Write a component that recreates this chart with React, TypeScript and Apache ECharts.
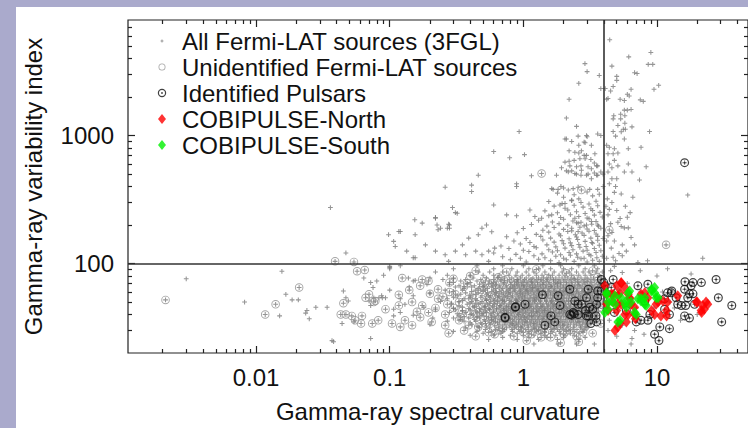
import React, { useEffect, useRef } from 'react';
import * as echarts from 'echarts';

const FONT = '"Liberation Sans", Arial, Helvetica, sans-serif';

// ---- axis ticks / labels ----
const X_MAJOR = [0.01, 0.1, 1, 10];
const X_MINOR = [0.002, 0.003, 0.004, 0.005, 0.006, 0.007, 0.008, 0.009,
  0.02, 0.03, 0.04, 0.05, 0.06, 0.07, 0.08, 0.09,
  0.2, 0.3, 0.4, 0.5, 0.6, 0.7, 0.8, 0.9,
  2, 3, 4, 5, 6, 7, 8, 9, 20, 30, 40];
const Y_MAJOR = [100, 1000];
const Y_MINOR = [30, 40, 50, 60, 70, 80, 90, 200, 300, 400, 500, 600, 700, 800, 900,
  2000, 3000, 4000, 5000, 6000, 7000];

// ---- All 3FGL sources (not otherwise marked): upper sparse part ----
const allUpper: number[][] = [
  [4.43, 5600], [9.0, 4460], [6.15, 4120], [8.6, 3600], [9.3, 3600], [2.89, 3650], [3.0, 3160], [4.6, 3490],
  [6.8, 3100], [7.1, 3050], [3.7, 2950], [5.0, 2900], [5.0, 2700], [2.6, 2560], [10.3, 2470], [9.5, 2300],
  [4.7, 2420], [4.5, 2230], [3.8, 2330], [4.1, 2330], [6.4, 2300], [6.0, 2100], [6.2, 2040], [2.2, 1920],
  [4.2, 1920], [4.3, 1950], [5.3, 1920], [5.7, 1880], [7.5, 1900], [7.9, 1850], [5.7, 1580], [6.0, 1580],
  [6.4, 1600], [4.75, 1430], [5.35, 1470], [5.75, 1430], [2.1, 1370], [2.5, 1180], [4.7, 1350], [5.35, 1350],
  [5.75, 1250], [5.1, 1200], [5.6, 1120], [5.8, 1120], [6.5, 1170], [4.7, 1075], [4.9, 990], [5.4, 1070],
  [8.8, 1075], [0.93, 1075], [2.1, 940], [2.3, 900], [2.6, 840], [2.85, 890], [3.0, 980], [3.6, 1030],
  [3.8, 1000], [6.1, 790], [5.7, 940], [4.2, 840], [4.4, 810], [4.8, 790], [4.3, 720], [4.7, 720],
  [5.1, 730], [7.6, 810], [0.79, 670], [1.02, 710], [2.6, 730], [2.85, 700], [3.2, 650], [3.4, 610],
  [3.6, 580], [3.8, 520], [2.9, 660], [2.2, 630], [2.4, 640], [2.7, 580], [3.05, 570], [2.1, 530],
  [2.3, 530], [2.5, 500], [2.7, 490], [3.05, 500], [3.4, 510], [3.6, 490], [3.95, 500], [1.15, 485],
  [1.93, 560], [1.77, 490], [0.89, 420], [0.89, 400], [6.1, 600], [5.1, 580], [5.7, 520], [6.5, 520],
  [7.4, 450], [8.3, 570], [4.4, 600], [4.6, 560], [4.8, 640], [4.3, 520], [5.0, 460], [1.67, 380],
  [1.82, 380], [2.0, 390], [2.17, 375], [2.36, 385], [2.57, 395], [3.14, 380], [3.6, 380], [3.96, 400],
  [17, 343], [0.6, 750], [2.05, 940], [2.57, 990], [2.97, 1000], [2.9, 880], [3.23, 840], [2.2, 760],
  [2.43, 740], [2.72, 760], [2.97, 700], [3.43, 720], [2.65, 660], [2.05, 620], [2.23, 580], [2.5, 570],
  [2.72, 535], [3.23, 550], [3.53, 580], [2.17, 520], [2.43, 505], [2.97, 490], [3.23, 460], [3.53, 490],
  [1.63, 385], [1.91, 400], [1.12, 262], [1.22, 233], [1.37, 226], [1.63, 240], [1.88, 287], [2.05, 295],
  [2.3, 313], [0.6, 287], [0.75, 240], [0.89, 236], [0.46, 490], [0.41, 410], [0.41, 365], [0.26, 395],
  [0.31, 250], [0.22, 226], [0.23, 184], [0.28, 200], [0.28, 189], [0.154, 220], [0.117, 178], [2.43, 226],
  [2.57, 207], [2.97, 200], [3.23, 213], [3.6, 200], [2.3, 189], [2.57, 178],
  [0.036, 274], [0.047, 121], [0.098, 168], [0.12, 178], [0.107, 149], [0.11, 136], [0.15, 111], [0.155, 111],
  [0.134, 125], [0.22, 229], [0.226, 200], [0.24, 189], [0.276, 203], [0.295, 274], [0.32, 247], [0.27, 189],
  [0.175, 207], [0.155, 168], [0.185, 140], [0.22, 125], [0.26, 117], [0.276, 104], [0.31, 125], [0.35, 140],
  [0.39, 158], [0.46, 168], [0.49, 189], [0.53, 200], [0.58, 177], [0.37, 117], [0.44, 125], [0.49, 117],
  [0.55, 125], [0.61, 132],
  [4.55, 132], [5.7, 190], [6.1, 190], [5.4, 195], [4.8, 150], [5.2, 120], [4.3, 240], [5.0, 260],
  [6.0, 230], [4.6, 300], [7.2, 102], [8.5, 105], [22, 110], [6.4, 160], [4.2, 110], [4.9, 105],
  [5.5, 140], [4.3, 165], [5.9, 125], [6.8, 140], [4.5, 205], [5.3, 225], [4.15, 280], [6.6, 330],
  [5.4, 350], [4.4, 420], [4.6, 460], [4.8, 360], [4.2, 150], [4.6, 175], [5.1, 210], [4.4, 265],
  [5.8, 280], [4.25, 320], [4.9, 400], [5.5, 115], [6.3, 250], [4.7, 112],
];

// the band just above the y = 100 line
const allBand: number[][] = [
  [0.55, 104], [0.8, 107], [1.05, 103], [1.3, 108], [1.6, 105], [1.85, 102], [2.1, 107], [2.4, 104], [2.7, 109], [3.0, 103], [3.3, 106], [3.7, 104],
  [0.7, 113], [0.95, 110], [1.2, 115], [1.45, 111], [1.75, 114], [2.0, 110], [2.25, 116], [2.55, 112], [2.85, 110], [3.2, 115], [3.55, 111], [3.9, 114],
  [0.6, 121], [0.88, 118], [1.1, 124], [1.38, 119], [1.65, 123], [1.9, 117], [2.2, 122], [2.5, 119], [2.8, 125], [3.1, 118], [3.5, 122],
  [0.78, 131], [1.0, 127], [1.25, 133], [1.55, 128], [1.8, 126], [2.05, 132], [2.35, 128], [2.65, 134], [3.0, 127], [3.4, 131], [3.8, 126],
  [0.68, 137], [0.95, 142], [1.2, 136], [1.5, 140], [1.75, 135], [2.0, 143], [2.3, 138], [2.6, 141], [2.95, 136], [3.3, 144], [3.7, 139],
  [0.85, 150], [1.12, 146], [1.4, 153], [1.7, 147], [1.95, 151], [2.25, 145], [2.55, 154], [2.9, 149], [3.25, 146], [3.6, 152],
  [0.75, 162], [1.05, 157], [1.35, 163], [1.6, 158], [1.9, 165], [2.2, 156], [2.5, 161], [2.85, 166], [3.2, 158], [3.6, 163], [3.95, 157],
  [0.9, 174], [1.25, 169], [1.55, 176], [1.85, 170], [2.15, 178], [2.45, 168], [2.75, 173], [3.1, 179], [3.5, 170],
  [1.0, 188], [1.4, 182], [1.7, 191], [2.0, 185], [2.3, 180], [2.65, 192], [3.0, 186], [3.4, 181], [3.8, 189],
  [1.15, 202], [1.5, 196], [1.85, 205], [2.15, 199], [2.5, 208], [2.85, 197], [3.25, 203], [3.65, 196],
  [1.3, 218], [1.65, 211], [2.0, 222], [2.35, 215], [2.7, 210], [3.1, 224], [3.5, 213],
  [1.55, 236], [1.9, 229], [2.25, 241], [2.6, 233], [3.0, 227], [3.4, 239], [3.9, 231],
  [1.45, 258], [1.8, 249], [2.15, 262], [2.5, 254], [2.9, 246], [3.3, 260], [3.75, 251],
  [1.7, 281], [2.05, 270], [2.4, 285], [2.8, 276], [3.2, 268], [3.6, 283],
  [1.55, 305], [1.95, 294], [2.3, 310], [2.7, 300], [3.1, 292], [3.5, 307],
  [2.0, 330], [2.6, 320], [3.3, 338], [1.8, 355], [2.4, 345], [3.0, 362], [3.7, 348],
];

// rows read across the dense cloud below y = 100: [y, x, x, ...]
const allCloudRows: number[][] = [
  [96, 0.12, 0.45, 0.7, 1.0, 1.4, 1.9, 2.6, 3.4],
  [91, 0.1, 0.3, 0.6, 0.82, 1.1, 1.3, 1.6, 2.0, 2.3, 2.9, 3.6],
  [86, 0.22, 0.46, 0.56, 0.7, 0.9, 1.05, 1.2, 1.45, 1.7, 1.95, 2.2, 2.5, 2.8, 3.1, 3.5, 3.9],
  [81, 0.09, 0.27, 0.4, 0.5, 0.6, 0.66, 0.78, 0.88, 0.98, 1.1, 1.25, 1.38, 1.55, 1.65, 1.85, 2.05, 2.3, 2.6, 2.9, 3.2, 3.7],
  [77, 0.2, 0.3, 0.42, 0.53, 0.64, 0.72, 0.82, 0.95, 1.05, 1.18, 1.3, 1.42, 1.6, 1.75, 1.95, 2.15, 2.4, 2.7, 3.0, 3.35, 3.8],
  [75, 0.25, 0.37, 0.48, 0.6, 0.68, 0.79, 0.9, 1.02, 1.14, 1.26, 1.36, 1.51, 1.68, 1.85, 2.05, 2.28, 2.55, 2.85, 3.2, 3.6],
  [73, 0.08, 0.15, 0.34, 0.45, 0.56, 0.68, 0.76, 0.86, 0.92, 1.0, 1.1, 1.22, 1.35, 1.5, 1.68, 1.82, 2.0, 2.2, 2.45, 2.75, 3.05, 3.4, 3.85],
  [71, 0.3, 0.4, 0.5, 0.6, 0.72, 0.81, 0.9, 0.98, 1.05, 1.16, 1.28, 1.42, 1.58, 1.75, 1.9, 2.1, 2.32, 2.6, 2.9, 3.25, 3.65],
  [69, 0.19, 0.28, 0.38, 0.47, 0.55, 0.63, 0.71, 0.8, 0.89, 0.97, 1.07, 1.17, 1.28, 1.4, 1.55, 1.72, 1.9, 2.1, 2.3, 2.55, 2.85, 3.15, 3.5, 3.95],
  [67, 0.33, 0.43, 0.51, 0.59, 0.67, 0.75, 0.84, 0.93, 1.02, 1.12, 1.22, 1.34, 1.47, 1.63, 1.81, 2.0, 2.2, 2.42, 2.7, 3.0, 3.32, 3.72],
  [65.5, 0.14, 0.31, 0.41, 0.5, 0.58, 0.66, 0.74, 0.83, 0.91, 1.0, 1.12, 1.23, 1.35, 1.48, 1.63, 1.8, 1.98, 2.2, 2.4, 2.65, 2.95, 3.3, 3.7],
  [64, 0.36, 0.46, 0.54, 0.62, 0.7, 0.79, 0.87, 0.96, 1.06, 1.17, 1.29, 1.41, 1.55, 1.71, 1.89, 2.09, 2.3, 2.53, 2.8, 3.12, 3.5, 3.9],
  [62, 0.1, 0.26, 0.35, 0.44, 0.52, 0.6, 0.69, 0.77, 0.86, 0.95, 1.05, 1.16, 1.28, 1.42, 1.56, 1.72, 1.9, 2.08, 2.3, 2.52, 2.8, 3.1, 3.45, 3.85],
  [60.5, 0.3, 0.41, 0.5, 0.58, 0.66, 0.75, 0.85, 0.94, 1.04, 1.14, 1.26, 1.39, 1.53, 1.68, 1.86, 2.05, 2.26, 2.5, 2.76, 3.05, 3.38, 3.75],
  [59, 0.2, 0.37, 0.46, 0.54, 0.62, 0.71, 0.8, 0.9, 0.99, 1.09, 1.2, 1.32, 1.46, 1.6, 1.77, 1.96, 2.15, 2.38, 2.62, 2.9, 3.2, 3.55, 3.95],
  [57.5, 0.34, 0.44, 0.53, 0.61, 0.69, 0.78, 0.88, 0.98, 1.08, 1.2, 1.32, 1.45, 1.6, 1.76, 1.93, 2.12, 2.34, 2.58, 2.86, 3.15, 3.5, 3.88],
  [56, 0.15, 0.32, 0.4, 0.49, 0.57, 0.65, 0.74, 0.83, 0.93, 1.03, 1.14, 1.26, 1.38, 1.52, 1.67, 1.84, 2.02, 2.22, 2.45, 2.7, 3.0, 3.3, 3.65],
  [54.5, 0.3, 0.4, 0.48, 0.56, 0.64, 0.72, 0.82, 0.92, 1.02, 1.12, 1.24, 1.36, 1.5, 1.65, 1.82, 2.0, 2.2, 2.43, 2.68, 2.96, 3.26, 3.62],
  [53, 0.12, 0.27, 0.36, 0.44, 0.52, 0.6, 0.68, 0.77, 0.87, 0.97, 1.07, 1.18, 1.3, 1.44, 1.58, 1.74, 1.92, 2.1, 2.32, 2.56, 2.82, 3.1, 3.45, 3.8],
  [51.5, 0.35, 0.45, 0.53, 0.61, 0.7, 0.79, 0.89, 0.99, 1.1, 1.21, 1.34, 1.48, 1.63, 1.8, 1.98, 2.18, 2.4, 2.65, 2.94, 3.26, 3.62],
  [50.5, 0.24, 0.33, 0.41, 0.49, 0.57, 0.64, 0.72, 0.81, 0.9, 1.0, 1.1, 1.22, 1.34, 1.48, 1.63, 1.8, 1.98, 2.18, 2.4, 2.65, 2.92, 3.22, 3.6],
  [49, 0.29, 0.4, 0.48, 0.56, 0.64, 0.72, 0.81, 0.9, 1.0, 1.1, 1.22, 1.35, 1.49, 1.64, 1.8, 1.98, 2.18, 2.4, 2.65, 2.92, 3.22, 3.56, 3.92],
  [48, 0.13, 0.29, 0.38, 0.46, 0.54, 0.61, 0.69, 0.78, 0.86, 0.95, 1.05, 1.16, 1.28, 1.41, 1.55, 1.7, 1.88, 2.06, 2.27, 2.5, 2.76, 3.05, 3.38, 3.75],
  [46.5, 0.33, 0.43, 0.51, 0.59, 0.67, 0.75, 0.84, 0.93, 1.03, 1.14, 1.26, 1.39, 1.53, 1.68, 1.85, 2.04, 2.25, 2.48, 2.74, 3.02, 3.34, 3.7],
  [45.5, 0.18, 0.35, 0.43, 0.51, 0.59, 0.66, 0.75, 0.84, 0.92, 1.02, 1.12, 1.24, 1.37, 1.51, 1.66, 1.83, 2.01, 2.21, 2.44, 2.69, 2.97, 3.28, 3.65],
  [44.5, 0.3, 0.39, 0.47, 0.55, 0.63, 0.71, 0.8, 0.88, 0.98, 1.08, 1.19, 1.31, 1.45, 1.6, 1.76, 1.94, 2.14, 2.36, 2.6, 2.88, 3.18, 3.52, 3.9],
  [43.5, 0.22, 0.31, 0.4, 0.48, 0.56, 0.63, 0.71, 0.8, 0.89, 0.98, 1.08, 1.19, 1.31, 1.44, 1.59, 1.75, 1.93, 2.12, 2.34, 2.58, 2.85, 3.15, 3.5],
  [42.5, 0.35, 0.44, 0.52, 0.6, 0.67, 0.75, 0.84, 0.94, 1.03, 1.14, 1.26, 1.38, 1.52, 1.68, 1.85, 2.03, 2.24, 2.47, 2.72, 3.0, 3.3, 3.66],
  [41.5, 0.12, 0.28, 0.37, 0.45, 0.53, 0.6, 0.68, 0.77, 0.85, 0.94, 1.04, 1.15, 1.27, 1.4, 1.54, 1.7, 1.87, 2.06, 2.27, 2.5, 2.76, 3.05, 3.38],
  [40.5, 0.32, 0.41, 0.49, 0.57, 0.64, 0.72, 0.81, 0.9, 0.99, 1.09, 1.2, 1.32, 1.45, 1.6, 1.77, 1.95, 2.15, 2.37, 2.6, 2.87, 3.17, 3.5],
  [39.5, 0.15, 0.33, 0.42, 0.5, 0.58, 0.65, 0.73, 0.82, 0.91, 1.0, 1.11, 1.22, 1.35, 1.49, 1.64, 1.81, 2.0, 2.2, 2.42, 2.67, 2.95, 3.25, 3.6],
  [38.5, 0.36, 0.45, 0.53, 0.61, 0.69, 0.77, 0.86, 0.95, 1.05, 1.16, 1.28, 1.41, 1.56, 1.72, 1.89, 2.08, 2.3, 2.53, 2.8, 3.08, 3.42],
  [37.5, 0.21, 0.3, 0.39, 0.47, 0.55, 0.62, 0.7, 0.79, 0.88, 0.97, 1.07, 1.18, 1.3, 1.43, 1.58, 1.74, 1.92, 2.12, 2.34, 2.58, 2.85, 3.15],
  [36.5, 0.34, 0.43, 0.51, 0.58, 0.66, 0.74, 0.83, 0.92, 1.01, 1.12, 1.23, 1.36, 1.5, 1.65, 1.82, 2.01, 2.22, 2.45, 2.7, 2.98, 3.3],
  [35.5, 0.27, 0.36, 0.44, 0.52, 0.6, 0.68, 0.76, 0.85, 0.94, 1.04, 1.15, 1.27, 1.4, 1.55, 1.71, 1.89, 2.08, 2.3, 2.54, 2.8, 3.1, 3.45],
  [34.5, 0.4, 0.48, 0.56, 0.64, 0.72, 0.8, 0.89, 0.98, 1.08, 1.2, 1.32, 1.46, 1.61, 1.78, 1.96, 2.16, 2.38, 2.64, 2.92, 3.25],
  [33.5, 0.2, 0.41, 0.49, 0.57, 0.66, 0.74, 0.83, 0.92, 1.02, 1.13, 1.25, 1.38, 1.52, 1.68, 1.85, 2.04, 2.25, 2.5, 2.78, 3.1],
  [32.5, 0.45, 0.53, 0.61, 0.7, 0.79, 0.88, 0.98, 1.08, 1.19, 1.31, 1.44, 1.6, 1.77, 1.96, 2.16, 2.4, 2.66, 2.95],
  [31.5, 0.37, 0.47, 0.56, 0.65, 0.75, 0.86, 0.97, 1.09, 1.22, 1.36, 1.52, 1.7, 1.9, 2.12, 2.38, 2.68, 3.0],
  [30.5, 0.52, 0.62, 0.72, 0.82, 0.92, 1.04, 1.16, 1.3, 1.45, 1.62, 1.8, 2.0, 2.25, 2.52, 2.85],
  [29.5, 0.3, 0.45, 0.58, 0.7, 0.83, 0.96, 1.1, 1.26, 1.44, 1.64, 1.86, 2.1, 2.4, 2.75],
  [28.5, 0.5, 0.68, 0.9, 1.1, 1.35, 1.6, 1.9, 2.25, 2.6],
  [27.5, 0.4, 0.6, 0.8, 1.0, 1.2, 1.45, 1.75, 2.05, 2.4],
  [26.5, 0.7, 1.1, 1.5, 2.0, 2.9],
  [25.5, 0.55, 0.9, 1.3, 1.8, 2.6],
  [23.5, 1.2, 1.82, 2.5, 3.4, 6.4],
];

// sparse left tail and points right of the x = 4 line, below y = 100
const allLower: number[][] = [
  [0.003, 76], [0.0082, 50], [0.0156, 87], [0.0167, 57.5], [0.0186, 52], [0.0207, 52], [0.015, 39], [0.024, 43],
  [0.0235, 41], [0.025, 37], [0.028, 45.5], [0.034, 45.5], [0.037, 25], [0.038, 24.5], [0.045, 61], [0.047, 54],
  [0.049, 51], [0.054, 35], [0.044, 34], [0.072, 26], [0.07, 51], [0.072, 47], [0.076, 54], [0.075, 65],
  [0.064, 77], [0.072, 71], [0.083, 54], [0.087, 56], [0.093, 54], [0.107, 39], [0.1, 95], [0.1, 93],
  [0.138, 77], [0.155, 74], [0.088, 54], [0.107, 44],
  [4.3, 30], [5.0, 27], [6.5, 26], [8, 28], [12, 91], [18, 83], [4.5, 88], [5.5, 85], [9, 38], [11, 60],
  [13.5, 45], [15, 36], [20, 40], [4.2, 45], [4.6, 55], [5.2, 62], [6, 70], [7, 45], [7.5, 60], [4.4, 36],
  [5.5, 33], [6.8, 30], [9.5, 45], [10.5, 55], [12.5, 50], [4.8, 95], [7.5, 88], [10, 80],
];

// ---- Unidentified Fermi-LAT sources ----
const unidentified: number[][] = [
  [0.0021, 52], [0.021, 65], [0.014, 48], [0.0117, 40], [0.043, 40], [0.047, 40], [0.045, 49], [0.052, 39],
  [0.055, 36], [0.062, 39], [0.061, 34], [0.057, 87], [0.065, 89], [0.07, 57.5], [0.066, 54], [0.076, 50],
  [0.078, 51], [0.074, 34], [0.082, 36], [0.104, 34], [0.124, 77], [0.175, 75], [0.195, 73], [0.039, 104],
  [0.054, 103], [1.37, 505], [2.72, 375], [11.7, 140], [4.4, 183],
  [0.44, 88], [0.75, 86], [1.25, 90], [2.1, 84], [3.3, 88],
  [0.28, 71], [0.52, 73], [0.65, 78], [0.9, 75], [1.15, 72], [1.5, 77], [1.8, 70], [2.4, 76], [3.0, 72], [3.6, 78],
  [0.169, 67], [0.23, 63], [0.36, 66], [0.48, 62], [0.62, 68], [0.8, 64], [1.0, 67], [1.3, 62], [1.6, 66],
  [2.0, 61], [2.6, 68], [3.2, 63],
  [0.117, 57], [0.31, 57.5], [0.39, 53], [0.23, 53], [0.55, 56], [0.7, 52], [0.95, 58], [1.2, 54], [1.45, 57],
  [1.9, 53], [2.3, 57], [2.8, 52], [3.5, 55],
  [0.093, 44], [0.117, 47], [0.147, 50], [0.175, 47], [0.27, 48], [0.42, 46], [0.6, 49], [0.85, 45], [1.1, 50],
  [1.35, 46], [1.7, 48], [2.1, 45], [2.5, 49], [3.1, 46], [3.7, 50],
  [0.195, 41.5], [0.26, 40], [0.35, 43], [0.5, 41], [0.72, 43], [0.92, 40], [1.25, 42], [1.55, 40], [2.0, 43],
  [2.7, 41], [3.4, 42],
  [0.169, 38], [0.206, 35], [0.33, 36], [0.45, 38], [0.62, 35], [0.8, 37], [1.05, 35], [1.4, 37], [1.8, 35],
  [2.3, 38], [3.0, 36], [3.8, 34],
  [0.12, 32], [0.147, 33], [0.39, 33], [0.46, 32], [0.7, 31], [0.95, 32], [1.3, 30], [1.7, 31], [2.2, 30], [2.9, 32],
  [0.276, 28.5], [0.55, 29], [0.61, 28], [0.85, 27], [1.15, 28], [1.6, 26.5], [2.5, 27], [3.3, 28.5],
  [1.06, 25], [1.36, 26.5], [1.9, 24], [2.6, 24.5],
  [0.4, 80], [0.58, 70], [0.78, 59], [1.08, 62], [1.4, 69], [1.75, 58], [2.2, 66], [2.9, 60], [3.6, 66],
  [0.33, 50], [0.52, 46], [0.66, 55], [0.9, 50], [1.25, 52], [1.6, 50], [2.05, 50], [2.6, 55], [3.3, 49],
  [0.4, 40], [0.58, 38], [0.75, 41], [1.0, 44], [1.15, 39], [1.45, 43], [1.85, 41], [2.4, 43], [3.2, 39],
  [0.52, 34], [0.85, 33], [1.2, 34], [1.55, 34], [2.0, 33], [2.6, 35], [3.5, 37],
  [0.66, 30], [1.0, 29], [1.45, 29], [2.0, 28], [2.8, 29],
  [0.28, 60], [0.3, 45], [0.34, 38], [0.38, 70], [0.42, 57], [0.44, 49], [0.47, 42], [0.5, 66], [0.53, 52],
  [0.56, 44], [0.58, 36], [0.63, 60], [0.67, 47], [0.69, 39], [0.72, 74], [0.76, 55], [0.78, 46], [0.82, 34],
  [0.86, 68], [0.88, 52], [0.98, 55], [1.02, 38], [1.12, 46], [1.18, 65], [1.22, 31], [0.26, 33], [0.36, 30],
  [0.44, 27], [0.3, 76], [0.25, 55], [0.22, 45], [0.2, 58], [0.16, 42], [0.14, 62], [0.13, 36],
];

// ---- Identified pulsars ----
const pulsars: number[][] = [
  [0.73, 38], [0.875, 46], [1.03, 48], [1.39, 57], [1.82, 56], [1.88, 47], [1.61, 39], [1.45, 33], [1.72, 35],
  [2.23, 63], [2.43, 51], [2.36, 41.5], [2.23, 40], [2.57, 40], [2.3, 39.5], [2.4, 40.5], [2.92, 43], [3.06, 39],
  [3.06, 63], [2.72, 48], [3.2, 34], [3.53, 35], [3.6, 54], [3.53, 48], [4.0, 71], [4.7, 75], [3.3, 44],
  [7.2, 67], [8.55, 69], [7.0, 35], [9.6, 28], [10.5, 32], [10.35, 25], [11.4, 53], [12.8, 59], [12.4, 40],
  [16.1, 63], [18.0, 67], [17.0, 54], [17.5, 58], [16.4, 47], [19.1, 48], [18.6, 58], [21.5, 71], [27.7, 75],
  [28.8, 54], [36.3, 47], [30.5, 35], [7.6, 36], [8.1, 51], [8.85, 40], [5.9, 43], [4.8, 41.5], [4.1, 67],
  [4.55, 65], [13.9, 54], [15.2, 47], [11.4, 44], [2.57, 48], [2.97, 54], [3.14, 45.5], [2.97, 39], [3.5, 39],
  [3.6, 61], [0.87, 45.5], [0.73, 37.5], [16.1, 614], [16.2, 72], [18.6, 71], [16.1, 39], [17.5, 37.5],
  [14.3, 48], [12.4, 31], [8.55, 36], [12.0, 59], [12.9, 61], [3.84, 75], [3.84, 61],
];

// ---- COBIPULSE targets ----
const north: number[][] = [
  [4.07, 67], [5.4, 70], [4.55, 57.5], [5.1, 56], [5.3, 59], [4.7, 50], [4.3, 43], [5.0, 43], [5.4, 48],
  [5.75, 40], [4.85, 30], [5.3, 34], [6.25, 54], [6.8, 45.5], [7.6, 57.5], [8.55, 54], [8.1, 59], [9.1, 43],
  [9.6, 40], [9.85, 48], [11.1, 51], [11.8, 43], [11.8, 39], [14.3, 56], [19.7, 50], [22, 47], [23.3, 50],
  [21.4, 43], [24, 48], [6.1, 57.5], [5.0, 67], [5.75, 65], [4.2, 48], [6.9, 37], [5.4, 71], [4.7, 57.5],
  [5.1, 48], [10.7, 39], [20, 50], [22.6, 44], [21.6, 41.5], [12, 50], [10.2, 50], [6.25, 53], [6.4, 48],
  [6.8, 40], [5.1, 32], [5.9, 35], [6.1, 40], [4.2, 57.5],
];
const south: number[][] = [
  [4.2, 57.5], [4.3, 50], [4.07, 41.5], [4.85, 48], [5.75, 48], [6.1, 59], [6.4, 50], [5.9, 45.5], [5.1, 35],
  [7.0, 40], [7.2, 53], [7.6, 51], [8.3, 47], [9.1, 61], [9.6, 59], [9.6, 65], [10.2, 54], [4.85, 56],
  [5.4, 54], [8.1, 54], [4.55, 51], [4.3, 44], [5.3, 36], [5.9, 51], [6.25, 61], [7.6, 53], [8.1, 48],
  [9.1, 63], [9.85, 54], [6.8, 41.5], [4.2, 59],
];

const rowsToPoints = (rows: number[][]) =>
  rows.flatMap(([y, ...xs]) => xs.map((x) => [x, y]));

const allSources: number[][] = [
  ...allUpper,
  ...allBand,
  ...rowsToPoints(allCloudRows),
  ...allLower,
  ...unidentified,
  ...pulsars,
];

// ---- symbols ----
const PLUS = 'path://M-0.55,-2.5H0.55V-0.55H2.5V0.55H0.55V2.5H-0.55V0.55H-2.5V-0.55H-0.55Z';
const RING = 'path://M10,0A10,10 0 1,1 -10,0A10,10 0 1,1 10,0ZM7.8,0A7.8,7.8 0 1,0 -7.8,0A7.8,7.8 0 1,0 7.8,0Z';
const PULSAR = 'path://M10,0A10,10 0 1,1 -10,0A10,10 0 1,1 10,0ZM7.3,0A7.3,7.3 0 1,0 -7.3,0A7.3,7.3 0 1,0 7.3,0ZM2.3,0A2.3,2.3 0 1,1 -2.3,0A2.3,2.3 0 1,1 2.3,0Z';
const PAD = 'M-15,-6M15,6';
const L_PLUS = 'path://' + PAD + 'M-0.45,-1.4H0.45V-0.45H1.4V0.45H0.45V1.4H-0.45V0.45H-1.4V-0.45H-0.45Z';
const L_RING = 'path://' + PAD + 'M3.5,0A3.5,3.5 0 1,1 -3.5,0A3.5,3.5 0 1,1 3.5,0ZM2.7,0A2.7,2.7 0 1,0 -2.7,0A2.7,2.7 0 1,0 2.7,0Z';
const L_PULSAR = 'path://' + PAD + 'M4.2,0A4.2,4.2 0 1,1 -4.2,0A4.2,4.2 0 1,1 4.2,0ZM3.0,0A3,3 0 1,0 -3,0A3,3 0 1,0 3,0ZM0.9,0A0.9,0.9 0 1,1 -0.9,0A0.9,0.9 0 1,1 0.9,0Z';
const L_DIAMOND = 'path://' + PAD + 'M0,-5L4,0L0,5L-4,0Z';

const fmt = (v: number) => (v >= 1 ? String(Math.round(v)) : String(Number(v.toPrecision(6))));

const FRAME = '#222';

function xAxisDef(position: string, ticks: number[], len: number, labels: boolean) {
  return {
    type: 'log', logBase: 10, min: 0.0011, max: 48, position, gridIndex: 0,
    axisLine: { show: false }, splitLine: { show: false },
    axisTick: { show: true, inside: true, length: len, customValues: ticks, lineStyle: { color: FRAME, width: 1.2 } },
    axisLabel: labels
      ? { show: true, customValues: X_MAJOR, formatter: fmt, margin: 12, fontSize: 24, color: '#111', fontFamily: FONT }
      : { show: false },
    ...(labels
      ? { name: 'Gamma-ray spectral curvature', nameLocation: 'middle', nameGap: 46,
          nameTextStyle: { fontSize: 24, color: '#111', fontFamily: FONT } }
      : {}),
  };
}
function yAxisDef(position: string, ticks: number[], len: number, labels: boolean) {
  return {
    type: 'log', logBase: 10, min: 20, max: 8000, position, gridIndex: 0,
    axisLine: { show: false }, splitLine: { show: false },
    axisTick: { show: true, inside: true, length: len, customValues: ticks, lineStyle: { color: FRAME, width: 1.2 } },
    axisLabel: labels
      ? { show: true, customValues: Y_MAJOR, formatter: fmt, margin: 14, fontSize: 24, color: '#111', fontFamily: FONT }
      : { show: false },
    ...(labels
      ? { name: 'Gamma-ray variability index', nameLocation: 'middle', nameGap: 83, nameRotate: 90,
          nameTextStyle: { fontSize: 24, color: '#111', fontFamily: FONT } }
      : {}),
  };
}

export default function App() {
  const ref = useRef<HTMLDivElement>(null);
  useEffect(() => {
    if (!ref.current) return;
    const chart = echarts.init(ref.current, undefined, { renderer: 'svg' });
    chart.setOption({
      animation: false,
      backgroundColor: '#ffffff',
      textStyle: { fontFamily: FONT },
      grid: { left: 128, top: 20, right: -3, bottom: 72.5, show: true, borderColor: FRAME, borderWidth: 1.2, backgroundColor: 'transparent' },
      graphic: [
        { type: 'rect', shape: { x: 0, y: 0, width: 16, height: 428 }, style: { fill: '#aaaacc' }, silent: true },
        { type: 'rect', shape: { x: 0, y: 0, width: 748, height: 7 }, style: { fill: '#aaaacc' }, silent: true },
      ],
      xAxis: [
        xAxisDef('bottom', X_MAJOR, 7, true),
        xAxisDef('bottom', X_MINOR, 4, false),
        xAxisDef('top', X_MAJOR, 7, false),
        xAxisDef('top', X_MINOR, 4, false),
      ],
      yAxis: [
        yAxisDef('left', Y_MAJOR, 7, true),
        yAxisDef('left', Y_MINOR, 4, false),
        yAxisDef('right', Y_MAJOR, 7, false),
        yAxisDef('right', Y_MINOR, 4, false),
      ],
      legend: {
        orient: 'vertical', left: 142, top: 24, padding: 5, itemWidth: 30, itemHeight: 12, itemGap: 2,
        selectedMode: false,
        textStyle: { fontSize: 24, lineHeight: 22, color: '#111', fontFamily: FONT },
        data: [
          { name: 'All Fermi-LAT sources (3FGL)', icon: L_PLUS },
          { name: 'Unidentified Fermi-LAT sources', icon: L_RING },
          { name: 'Identified Pulsars', icon: L_PULSAR },
          { name: 'COBIPULSE-North', icon: L_DIAMOND },
          { name: 'COBIPULSE-South', icon: L_DIAMOND },
        ],
      },
      series: [
        {
          type: 'scatter', name: 'All Fermi-LAT sources (3FGL)', data: allSources, symbol: PLUS, symbolSize: 4.8,
          itemStyle: { color: '#7a7a7a' }, z: 2, silent: true, large: false,
          markLine: {
            silent: true, symbol: ['none', 'none'], label: { show: false },
            lineStyle: { color: '#333', width: 1.6, type: 'solid' },
            data: [{ xAxis: 4 }, { yAxis: 100 }],
          },
        },
        { type: 'scatter', name: 'Unidentified Fermi-LAT sources', data: unidentified, symbol: RING, symbolSize: 8.5,
          itemStyle: { color: '#8e8e8e' }, z: 3, silent: true },
        { type: 'scatter', name: 'Identified Pulsars', data: pulsars, symbol: PULSAR, symbolSize: 9,
          itemStyle: { color: '#111' }, z: 4, silent: true },
        { type: 'scatter', name: 'COBIPULSE-North', data: north, symbol: 'diamond', symbolSize: [9, 11],
          itemStyle: { color: '#ff0000' }, z: 5, silent: true },
        { type: 'scatter', name: 'COBIPULSE-South', data: south, symbol: 'diamond', symbolSize: [9, 11],
          itemStyle: { color: '#00f000' }, z: 6, silent: true },
      ],
    });
    return () => chart.dispose();
  }, []);
  return (
    <div
      ref={ref}
      style={{ position: 'absolute', left: 0, top: 0, width: 748, height: 428, background: '#fff' }}
    />
  );
}
